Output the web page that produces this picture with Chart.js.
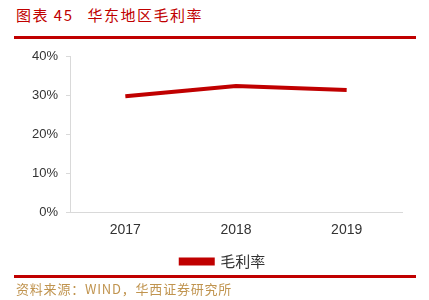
<!DOCTYPE html>
<html><head><meta charset="utf-8">
<script src="https://cdn.jsdelivr.net/npm/chart.js@4/dist/chart.umd.min.js"></script>
<style>
html,body{margin:0;padding:0;background:#fff;width:429px;height:300px;overflow:hidden;position:relative;font-family:"Noto Sans CJK SC",sans-serif;}
#title{position:absolute;left:16px;top:4px;font-size:15px;color:#c00000;white-space:nowrap;letter-spacing:1.5px;}
.rule{position:absolute;left:14px;width:402px;height:3px;background:#c00000;}
#src{position:absolute;left:16px;top:279px;font-size:13px;color:#c0944f;white-space:nowrap;letter-spacing:0.8px;}
#wrap{position:absolute;left:0;top:40px;width:429px;height:239px;}
</style></head>
<body>
<div id="title">图表 45<span style="display:inline-block;width:14px"></span>华东地区毛利率</div>
<div class="rule" style="top:36px"></div>
<div id="wrap"><canvas id="c" width="429" height="239"></canvas></div>
<div class="rule" style="top:275px"></div>
<div id="src">资料来源：WIND，华西证券研究所</div>
<script>
const categories = ["2017", "2018", "2019"];
const grossMargin = [29.7, 32.3, 31.3];
const seriesName = "毛利率";
const yTicks = [0, 10, 20, 30, 40];

const shiftLegend = {
  id: 'shiftLegend',
  afterLayout(chart) {
    if (chart.legend) { chart.legend.left += 22; chart.legend.right += 22; }
  }
};

new Chart(document.getElementById('c'), {
  type: 'line',
  data: {
    labels: categories,
    datasets: [{
      label: seriesName,
      data: grossMargin,
      borderColor: '#c00000',
      backgroundColor: '#c00000',
      borderWidth: 4,
      pointRadius: 0,
      tension: 0
    }]
  },
  plugins: [shiftLegend],
  options: {
    responsive: false,
    animation: false,
    devicePixelRatio: 1,
    layout: { padding: { left: 0, right: 27, top: 16, bottom: 0 } },
    plugins: {
      tooltip: { enabled: false },
      legend: {
        position: 'bottom',
        labels: {
          boxWidth: 32, boxHeight: 4, padding: 4,
          color: '#333',
          font: { family: '"Noto Sans CJK SC"', size: 15 }
        }
      }
    },
    scales: {
      x: {
        offset: true,
        grid: { display: false },
        border: { display: true, color: '#d9d9d9', width: 1 },
        ticks: { color: '#333', font: { family: '"Liberation Sans"', size: 14 }, padding: 2 },
        afterFit: s => { s.height = 38; }
      },
      y: {
        min: 0, max: 40,
        afterBuildTicks: s => { s.ticks = yTicks.map(v => ({ value: v })); },
        grid: { drawOnChartArea: false, drawTicks: true, tickLength: 4, color: '#d9d9d9' },
        border: { display: true, color: '#d9d9d9', width: 1 },
        ticks: { color: '#333', font: { family: '"Liberation Sans"', size: 13 }, padding: 8, callback: v => v + '%' },
        afterFit: s => { s.width = 70; }
      }
    }
  }
});
</script>
</body></html>
